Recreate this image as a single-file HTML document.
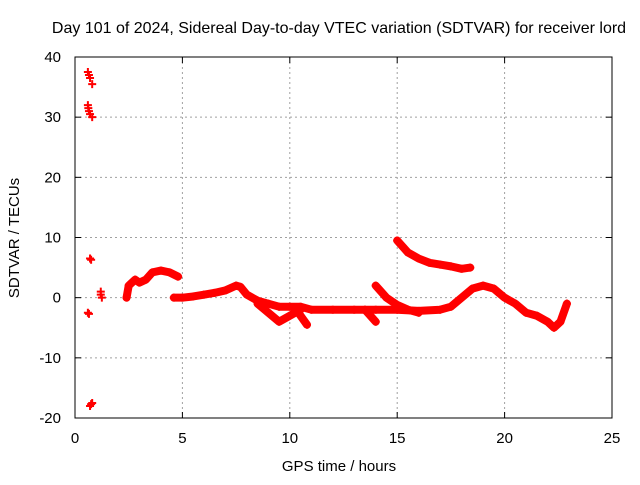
<!DOCTYPE html>
<html><head><meta charset="utf-8"><style>
body{margin:0;background:#fff}
svg{font-family:"Liberation Sans",sans-serif;font-size:15px}
</style></head><body>
<svg id="c" width="640" height="480">
<text x="339" y="33" text-anchor="middle" font-size="16">Day 101 of 2024, Sidereal Day-to-day VTEC variation (SDTVAR) for receiver lord</text>
<text x="339" y="471" text-anchor="middle">GPS time / hours</text>
<text transform="translate(19,238) rotate(-90)" text-anchor="middle">SDTVAR / TECUs</text>
<g id="grid"></g><g id="marks"></g>
<rect x="75" y="57" width="537" height="361" fill="none" stroke="#000"/>
</svg>
<script>
const xTicks=[0,5,10,15,20,25];
const yTicks=[-20,-10,0,10,20,30,40];
const mainBand=[[2.4,0],[2.5,2],[2.8,3],[3.0,2.5],[3.3,3],[3.6,4.2],[4.0,4.5],[4.4,4.2],[4.8,3.5]];
const band2=[[4.6,0],[5.0,0],[5.5,0.2],[6,0.5],[6.5,0.8],[7,1.2],[7.5,2],[7.7,1.8],[8,0.5],[8.5,-0.5],[9,-1],[9.5,-1.5],[10,-1.5],[10.5,-1.5],[11,-2],[12,-2],[13,-2],[14,-2],[15,-2],[16,-2.2],[17,-2],[17.5,-1.5],[18,0],[18.5,1.5],[19,2],[19.5,1.5],[20,0],[20.5,-1],[21,-2.5],[21.5,-3],[22,-4],[22.3,-5],[22.6,-4],[22.9,-1]];
const lowBranch1=[[8.5,-1],[9,-2.5],[9.5,-4],[10,-3],[10.5,-2]];
const lowBranch2=[[10.3,-2],[10.8,-4.5]];
const lowBranch3=[[13.5,-2],[14,-4]];
const upperLine=[[14,2],[14.5,0],[15,-1.2],[15.5,-2],[16,-2.5]];
const upperCurve=[[15,9.5],[15.5,7.5],[16,6.5],[16.5,5.8],[17,5.5],[17.5,5.2],[18,4.8],[18.4,5]];
const isolated=[[0.6,37.5],[0.65,37],[0.7,36.5],[0.8,35.5],[0.6,32],[0.62,31.5],[0.65,31],[0.7,30.5],[0.8,30],[0.7,6.5],[0.75,6.3],[0.6,-2.5],[0.65,-2.7],[0.7,-18],[0.75,-17.7],[0.8,-17.5],[1.2,0.5],[1.2,1],[1.25,0]];
const series=[mainBand,band2,lowBranch1,lowBranch2,lowBranch3,upperLine,upperCurve];
const NS='http://www.w3.org/2000/svg';
const X=v=>75+v*537/25, Y=v=>418-(v+20)*361/60;
const grid=document.getElementById('grid'), marks=document.getElementById('marks');
function mk(tag,at,par){const e=document.createElementNS(NS,tag);for(const k in at)e.setAttribute(k,at[k]);par.appendChild(e);return e;}
xTicks.forEach(t=>{
 if(t>0&&t<25){const l=mk('line',{x1:X(t),x2:X(t),y1:57,y2:418,stroke:'#a0a0a0','stroke-dasharray':'2,3'},grid);
 
 }
 mk('line',{x1:X(t),x2:X(t),y1:418,y2:412,stroke:'#000'},grid);mk('line',{x1:X(t),x2:X(t),y1:57,y2:63,stroke:'#000'},grid);
 const tx=mk('text',{x:X(t),y:443,'text-anchor':'middle'},grid);tx.textContent=t;
 
 
});
yTicks.forEach(t=>{
 if(t>-20&&t<40){const l=mk('line',{x1:75,x2:612,y1:Y(t),y2:Y(t),stroke:'#a0a0a0','stroke-dasharray':'2,3'},grid);
 
 }
 mk('line',{x1:75,x2:81,y1:Y(t),y2:Y(t),stroke:'#000'},grid);mk('line',{x1:612,x2:606,y1:Y(t),y2:Y(t),stroke:'#000'},grid);
 const tx=mk('text',{x:61,y:Y(t)+5,'text-anchor':'end'},grid);tx.textContent=t;
 
 
});
function plus(p){const x=X(p[0]),y=Y(p[1]);const e=mk('path',{d:`M${x-4} ${y}h8M${x} ${y-4}v8`,stroke:'#f00','stroke-width':2},marks);
 
 }
series.forEach(s=>{
 const pl=mk('polyline',{points:s.map(p=>X(p[0])+','+Y(p[1])).join(' '),fill:'none',stroke:'#f00','stroke-width':8,'stroke-linejoin':'round','stroke-linecap':'round'},marks);
 
 
 s.forEach(plus);
});
isolated.forEach(plus);
</script>
</body></html>
